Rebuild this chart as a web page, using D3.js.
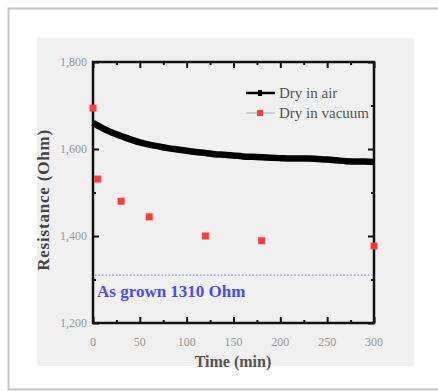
<!DOCTYPE html>
<html>
<head>
<meta charset="utf-8">
<script src="https://cdn.jsdelivr.net/npm/d3@7"></script>
<style>
  html, body { margin: 0; padding: 0; background: #fff; }
  svg { display: block; }
  svg text { font-family: "Liberation Serif", "Times New Roman", serif; }
</style>
</head>
<body>
<script>
// Drying time series: resistance of the film while drying in air and in vacuum
const airTimes = [0, 10, 20, 30, 40, 50, 60, 70, 80, 90, 100, 110, 120, 130, 140, 150,
  160, 170, 180, 190, 200, 210, 220, 230, 240, 250, 260, 270, 280, 290, 300];
const airValues = [1660, 1648, 1638, 1630, 1622, 1615, 1610, 1606, 1602, 1599, 1596, 1593,
  1591, 1588, 1587, 1585, 1583, 1582, 1581, 1580, 1579, 1578, 1578, 1578, 1577, 1576,
  1574, 1572, 1571, 1571, 1570];
const vacuumTimes = [0, 5, 30, 60, 120, 180, 300];
const vacuumValues = [1694, 1531, 1480, 1444, 1400, 1389, 1377];
const asGrownValue = 1310;
const xTicks = [0, 50, 100, 150, 200, 250, 300];
const xMinorTicks = [25, 75, 125, 175, 225, 275];
const yTicks = [1200, 1400, 1600, 1800];
const yMinorTicks = [1300, 1500, 1700];
const seriesNames = ["Dry in air", "Dry in vacuum"];

const W = 438, H = 391;
const svg = d3.select("body").append("svg").attr("width", W).attr("height", H);

// outer card and grey panel
svg.append("rect").attr("x", 8.5).attr("y", 8.5).attr("width", 440).attr("height", 381)
  .attr("fill", "#fff").attr("stroke", "#c4c4c4").attr("stroke-width", 2);
svg.append("rect").attr("x", 37).attr("y", 38).attr("width", 377).attr("height", 328)
  .attr("fill", "#f0f0f0");

const m = { left: 93, right: 374, top: 62, bottom: 323 };
const x = d3.scaleLinear().domain([0, 300]).range([m.left, m.right]);
const y = d3.scaleLinear().domain([1200, 1800]).range([m.bottom, m.top]);

// inward ticks on all four sides
function ticks(g, axis, vals, len) {
  g.call(axis.tickValues(vals).tickSize(len).tickFormat(""));
  g.select(".domain").remove();
  g.selectAll(".tick line").attr("stroke", "#111").attr("stroke-width", 2);
}
const frame = svg.append("g");
ticks(frame.append("g").attr("transform", `translate(0,${m.bottom})`), d3.axisTop(x), xTicks, 6);
ticks(frame.append("g").attr("transform", `translate(0,${m.bottom})`), d3.axisTop(x), xMinorTicks, 3);
ticks(frame.append("g").attr("transform", `translate(0,${m.top})`), d3.axisBottom(x), xTicks, 6);
ticks(frame.append("g").attr("transform", `translate(0,${m.top})`), d3.axisBottom(x), xMinorTicks, 3);
ticks(frame.append("g").attr("transform", `translate(${m.left},0)`), d3.axisRight(y), yTicks, 6);
ticks(frame.append("g").attr("transform", `translate(${m.left},0)`), d3.axisRight(y), yMinorTicks, 3);
ticks(frame.append("g").attr("transform", `translate(${m.right},0)`), d3.axisLeft(y), yTicks, 6);
ticks(frame.append("g").attr("transform", `translate(${m.right},0)`), d3.axisLeft(y), yMinorTicks, 3);

svg.append("rect").attr("x", m.left).attr("y", m.top)
  .attr("width", m.right - m.left).attr("height", m.bottom - m.top)
  .attr("fill", "none").attr("stroke", "#111").attr("stroke-width", 2.5);

// tick labels
const fmt = d3.format(",");
svg.append("g").selectAll("text").data(xTicks).join("text")
  .attr("x", d => x(d)).attr("y", 346).attr("text-anchor", "middle")
  .attr("font-size", 12).attr("fill", "#999")
  .text(d => d);
svg.append("g").selectAll("text").data(yTicks).join("text")
  .attr("x", 87).attr("y", d => y(d) + 4).attr("text-anchor", "end")
  .attr("font-size", 12).attr("fill", "#999")
  .text(d => fmt(d));

// axis titles
svg.append("text").attr("x", 233).attr("y", 367)
  .attr("text-anchor", "middle").attr("font-weight", "bold")
  .attr("font-size", 16).attr("fill", "#555").text("Time (min)");
svg.append("text").attr("transform", `translate(49,200) rotate(-90)`)
  .attr("text-anchor", "middle").attr("font-weight", "bold")
  .attr("font-size", 17).attr("letter-spacing", 0.8).attr("fill", "#444").text("Resistance (Ohm)");

// as-grown reference level
svg.append("line").attr("x1", x(2)).attr("x2", x(300)).attr("y1", y(asGrownValue)).attr("y2", y(asGrownValue))
  .attr("stroke", "#8a8aff").attr("stroke-width", 1.2).attr("stroke-dasharray", "1.5,2");
svg.append("text").attr("x", 97).attr("y", 297)
  .attr("font-weight", "bold").attr("font-size", 17)
  .attr("fill", "#4a4aff").text(`As grown ${asGrownValue} Ohm`);

// dry in air: dense thick trace
const airData = airTimes.map((t, i) => [t, airValues[i]]);
svg.append("path").datum(airData)
  .attr("d", d3.line().x(d => x(d[0])).y(d => y(d[1])).curve(d3.curveMonotoneX))
  .attr("fill", "none").attr("stroke", "#000").attr("stroke-width", 6.5);

// dry in vacuum: red markers
svg.append("g").selectAll("rect").data(vacuumTimes.map((t, i) => [t, vacuumValues[i]])).join("rect")
  .attr("x", d => x(d[0]) - 3.5).attr("y", d => y(d[1]) - 3.5)
  .attr("width", 7).attr("height", 7).attr("fill", "#ff3b3b");

// legend
const lg = svg.append("g");
lg.append("line").attr("x1", 246).attr("x2", 275).attr("y1", 93).attr("y2", 93)
  .attr("stroke", "#000").attr("stroke-width", 2.5);
lg.append("rect").attr("x", 258).attr("y", 90).attr("width", 4).attr("height", 6).attr("fill", "#000");
lg.append("line").attr("x1", 246).attr("x2", 275).attr("y1", 113).attr("y2", 113)
  .attr("stroke", "#aaa").attr("stroke-width", 1);
lg.append("rect").attr("x", 257).attr("y", 110).attr("width", 6).attr("height", 6).attr("fill", "#ff3b3b");
lg.selectAll("text.lbl").data(seriesNames).join("text").attr("class", "lbl")
  .attr("x", 279).attr("y", (d, i) => 98 + i * 20)
  .attr("font-size", 15).attr("fill", "#555").text(d => d);
</script>
</body>
</html>
